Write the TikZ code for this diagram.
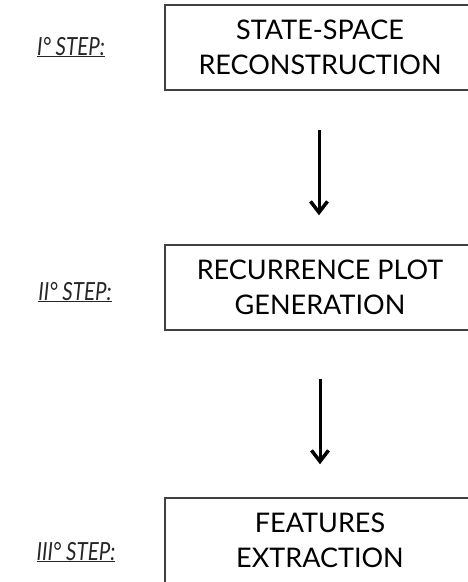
\documentclass[tikz,border=0pt]{standalone}
\usepackage{fontspec}
\setmainfont{Lato}
\usetikzlibrary{arrows.meta}
\begin{document}
\begin{tikzpicture}[x=1pt,y=1pt,
  stepbox/.style={draw=black!75, line width=1.5pt, minimum width=310pt, minimum height=85pt,
    align=center, inner sep=0pt, font=\fontsize{27}{35}\selectfont},
  steplabel/.style={inner sep=0pt, font=\fontsize{25}{28}\selectfont\itshape, text=black!85, xscale=0.82, transform shape},
  flow/.style={line width=3pt, -{Straight Barb[length=11pt,width=17pt,line width=3.5pt]}}
]
\useasboundingbox (0,0) rectangle (468,-582);
\clip (0,0) rectangle (468,-582);
\node[stepbox] (b1) at (320,-47.5) {STATE-SPACE\\RECONSTRUCTION};
\node[stepbox] (b2) at (320,-287.5) {RECURRENCE PLOT\\GENERATION};
\node[stepbox] (b3) at (320,-540.5) {FEATURES\\EXTRACTION};
\node[steplabel, anchor=base] (l1) at (71,-55) {\underline{I° STEP:}};
\node[steplabel, anchor=base] (l2) at (75,-300) {\underline{II° STEP:}};
\node[steplabel, anchor=base] (l3) at (76,-560) {\underline{III° STEP:}};
\draw[flow, shorten <=39pt, shorten >=29pt] (b1.south -| 319,0) -- (b2.north -| 319,0);
\draw[flow, shorten <=48pt, shorten >=33pt] (b2.south -| 320,0) -- (b3.north -| 320,0);
\end{tikzpicture}
\end{document}
